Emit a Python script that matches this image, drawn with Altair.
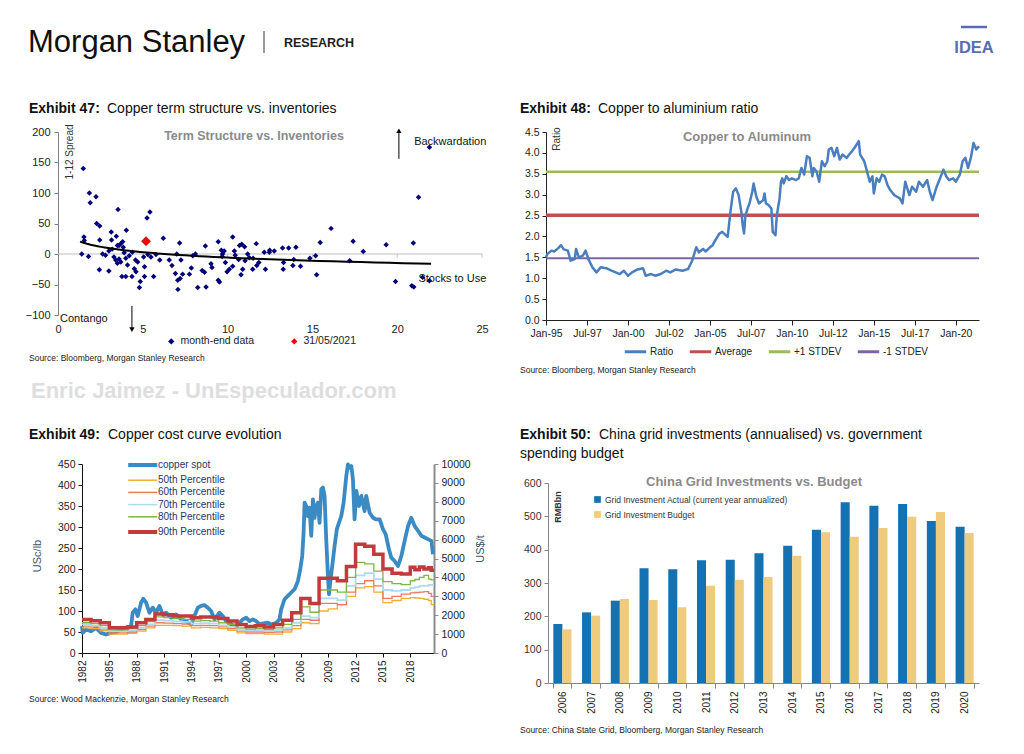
import altair as alt
import pandas as pd

FONT = "Liberation Sans"

# ---------------- Exhibit 47: term structure vs inventories ----------------
stu_x = [1.49, 1.85, 2.24, 1.90, 3.54, 5.42, 5.25, 2.28, 2.46, 4.03,
         3.14, 3.44, 6.21, 1.53, 1.55, 2.46, 3.16, 3.81, 3.70, 3.60,
         3.85, 3.50, 7.17, 8.69, 9.45, 10.30, 10.83, 11.00, 11.69, 12.16,
         12.48, 9.63, 9.80, 9.70, 1.40, 1.80, 2.63, 3.00, 2.44, 3.00,
         3.30, 3.40, 3.60, 3.70, 3.50, 4.00, 4.10, 4.38, 3.77, 4.00,
         4.36, 4.60, 4.70, 4.57, 4.50, 4.85, 4.80, 5.05, 5.10, 5.10,
         5.48, 5.64, 5.78, 6.56, 6.72, 6.92, 7.06, 7.07, 7.00, 7.25,
         7.20, 7.35, 7.75, 7.86, 7.95, 8.10, 8.24, 8.50, 8.64, 8.73,
         9.02, 9.08, 9.45, 9.52, 9.68, 9.87, 9.97, 10.10, 10.30, 10.40,
         10.65, 10.79, 10.89, 11.03, 11.18, 11.28, 11.48, 11.72, 11.84, 12.23,
         12.46, 12.75, 13.24, 13.28, 13.30, 13.60, 13.85, 13.90, 14.03, 14.30,
         14.85, 15.19, 15.25, 15.46, 16.10, 17.20, 17.40, 18.00, 19.35, 19.90,
         20.95, 20.86, 20.98, 21.26, 21.50, 21.90, 21.90, 10.70, 11.50, 2.80,
         3.20, 3.90, 4.20, 10.45, 5.30, 6.00]
spread_y = [140, 100, 94, 84, 73, 69, 59, 50, 46, 39,
            36, 29, 26, 28, 22, 23, 23, 20, 17, 14,
            11, 14, 18, 13, 20, 28, 16, 12, 17, 3,
            6, 6, 5, 0, 0, -4, 0, 5, -26, -28,
            -5, -10, -8, -13, -15, -7, -18, 3, -37, -37,
            -37, -29, -13, -10, -24, -45, -55, -5, -21, -37,
            -5, -37, -1, -10, -19, -32, -43, -58, 0, -10,
            -40, -33, -33, -23, -3, 0, -55, -27, -30, -54,
            -16, -22, -43, -46, -4, -14, -29, -25, -20, 5,
            -9, -34, -25, -11, 0, -6, -25, -19, -14, -25,
            3, 5, 10, -25, -14, 10, -19, -9, 11, -20,
            -7, -3, -34, 19, 42, -11, 21, 4, 15, -45,
            18, -52, -54, 93, -38, 175, -44, 14, -7, -2,
            8, 2, -3, -2, -1, -10]
latest_x = [5.19]
latest_y = [21]
series47 = ["month-end data", "31/05/2021"]
xticks47 = [0, 5, 10, 15, 20, 25]
yticks47 = [-100, -50, 0, 50, 100, 150, 200]
ann47_text = ["Backwardation", "Stocks to Use", "Contango"]
ann47_x = [21.0, 21.25, 0.12]
ann47_y = [183.5, -40.5, -106.6]
arrow47_x = [20.1, 4.36]
arrow47_from = [156, -85]
arrow47_to = [202, -124]
arrow47_dir = ["up", "down"]

# ---------------- Exhibit 48: copper / aluminium ratio ----------------
ratio_month = [0, 1, 4, 6, 9, 11, 13, 16, 18, 21,
               22, 24, 27, 29, 31, 34, 37, 40, 44, 48,
               51, 54, 57, 60, 63, 67, 71, 73, 77, 80,
               84, 88, 91, 95, 100, 104, 107, 110, 112, 115,
               117, 120, 122, 124, 127, 129, 133, 135, 137, 139,
               141, 143, 144, 145, 146, 148, 149, 151, 152, 154,
               156, 159, 160, 161, 163, 165, 166, 168, 169, 171,
               172, 173, 174, 176, 178, 180, 183, 185, 187, 189,
               191, 193, 195, 196, 198, 200, 202, 204, 206, 207,
               209, 211, 213, 215, 217, 220, 222, 224, 226, 229,
               230, 233, 235, 237, 239, 240, 242, 244, 246, 248,
               250, 252, 255, 257, 259, 261, 263, 266, 268, 271,
               273, 276, 279, 281, 283, 286, 288, 291, 293, 295,
               298, 300, 303, 305, 307, 309, 311, 313, 315, 317]
ratio_val = [1.50, 1.58, 1.66, 1.64, 1.72, 1.79, 1.69, 1.66, 1.42, 1.46,
             1.70, 1.50, 1.54, 1.66, 1.46, 1.26, 1.14, 1.26, 1.24, 1.18,
             1.14, 1.10, 1.18, 1.06, 1.14, 1.21, 1.24, 1.06, 1.10, 1.06,
             1.10, 1.18, 1.14, 1.21, 1.18, 1.22, 1.42, 1.74, 1.62, 1.70,
             1.64, 1.74, 1.79, 1.91, 2.07, 2.11, 1.99, 2.59, 3.07, 3.15,
             2.99, 2.59, 2.27, 2.07, 2.51, 2.71, 2.79, 3.07, 3.27, 2.95,
             2.79, 2.87, 3.03, 2.79, 2.75, 2.67, 2.11, 2.03, 2.51, 2.91,
             3.31, 3.39, 3.27, 3.44, 3.35, 3.39, 3.35, 3.39, 3.64, 3.48,
             3.92, 3.88, 3.44, 3.64, 3.56, 3.31, 3.80, 3.68, 3.80, 4.08,
             4.12, 3.92, 4.12, 3.84, 3.96, 3.88, 3.96, 4.04, 4.13, 4.28,
             3.96, 3.80, 3.56, 3.31, 3.44, 3.03, 3.39, 3.31, 3.48, 3.44,
             3.23, 3.11, 2.99, 2.95, 2.91, 2.79, 3.31, 2.99, 3.19, 3.07,
             3.31, 3.19, 3.35, 3.07, 2.87, 3.19, 3.35, 3.60, 3.44, 3.35,
             3.39, 3.31, 3.48, 3.80, 3.88, 3.64, 3.88, 4.24, 4.08, 4.16]
ref_names = ["Average", "+1 STDEV", "-1 STDEV"]
ref_vals = [2.51, 3.55, 1.48]
ref_widths = [3.5, 2.5, 2.0]
ratio_width = 2.5
ratio_span = [0, 317]
series48 = ["Ratio", "Average", "+1 STDEV", "-1 STDEV"]
colors48 = ["#4a7ebf", "#c0504d", "#9bbb59", "#8064a2"]
xticks48 = [0, 30, 60, 90, 120, 150, 180, 210, 240, 270, 300]
xlabels48 = ["Jan-95", "Jul-97", "Jan-00", "Jul-02", "Jan-05", "Jul-07",
             "Jan-10", "Jul-12", "Jan-15", "Jul-17", "Jan-20"]
yticks48 = [0, 0.5, 1, 1.5, 2, 2.5, 3, 3.5, 4, 4.5]

# ---------------- Exhibit 49: cost curve ----------------
spot_year = [1982.0, 1982.07, 1982.44, 1982.99, 1983.54, 1984.09, 1984.63, 1985.18, 1985.73, 1986.28,
             1986.83, 1987.38, 1987.56, 1987.85, 1988.11, 1988.48, 1988.73, 1989.03, 1989.39, 1989.76,
             1990.12, 1990.49, 1990.85, 1991.22, 1991.77, 1992.32, 1992.87, 1993.42, 1993.96, 1994.33,
             1994.70, 1995.06, 1995.43, 1995.79, 1996.16, 1996.53, 1997.07, 1997.44, 1997.81, 1998.36,
             1998.90, 1999.27, 1999.64, 2000.00, 2000.37, 2000.73, 2001.10, 2001.47, 2002.01, 2002.38,
             2002.75, 2003.30, 2003.66, 2003.84, 2004.21, 2004.58, 2004.94, 2005.31, 2005.67, 2005.93,
             2006.15, 2006.30, 2006.41, 2006.59, 2006.77, 2006.95, 2007.14, 2007.32, 2007.50, 2007.69,
             2007.87, 2008.05, 2008.24, 2008.42, 2008.60, 2008.78, 2008.97, 2009.08, 2009.22, 2009.44,
             2009.70, 2009.95, 2010.17, 2010.43, 2010.69, 2010.98, 2011.16, 2011.34, 2011.53, 2011.71,
             2011.89, 2012.08, 2012.37, 2012.63, 2012.99, 2013.17, 2013.54, 2013.91, 2014.27, 2014.64,
             2015.00, 2015.30, 2015.66, 2015.92, 2016.28, 2016.65, 2017.02, 2017.38, 2017.75, 2018.11,
             2018.48, 2018.85, 2019.21, 2019.58, 2019.94, 2020.31, 2020.49]
spot_val = [64, 48, 56, 52, 60, 48, 44, 48, 50, 56,
            60, 64, 96, 104, 88, 120, 129, 120, 96, 108,
            96, 112, 92, 96, 84, 92, 80, 76, 68, 88,
            108, 112, 114, 108, 100, 80, 96, 88, 76, 68,
            64, 72, 80, 84, 76, 80, 76, 68, 71, 72,
            68, 72, 80, 104, 128, 136, 144, 152, 171, 199,
            231, 287, 358, 350, 326, 346, 279, 366, 322, 350,
            358, 310, 390, 394, 374, 271, 183, 140, 168, 207,
            255, 295, 310, 326, 358, 421, 449, 441, 445, 414,
            318, 386, 350, 374, 338, 374, 334, 322, 318, 318,
            295, 283, 247, 227, 219, 207, 231, 267, 302, 322,
            302, 291, 279, 275, 271, 267, 235]
pct_year = list(range(1982, 2018)) + [2018, 2018.5, 2019, 2019.5, 2020, 2020.3, 2020.6]
p50 = [60, 58, 53, 45, 45, 47, 52, 60, 66, 66, 65, 64, 60, 61, 60, 58, 54, 48, 46, 46,
       45, 45, 50, 58, 72, 70, 100, 105, 115, 135, 155, 158, 145, 120, 125, 130,
       132, 131, 130, 128, 125, 115, 115]
p60 = [64, 62, 57, 48, 48, 50, 56, 64, 72, 71, 70, 69, 65, 66, 65, 62, 58, 52, 50, 50,
       49, 50, 55, 65, 80, 78, 118, 118, 115, 145, 165, 172, 160, 130, 135, 140,
       143, 144, 145, 146, 142, 135, 135]
p70 = [68, 65, 60, 52, 52, 54, 60, 68, 78, 77, 75, 74, 70, 71, 70, 66, 62, 56, 54, 54,
       52, 55, 60, 72, 88, 84, 130, 130, 126, 160, 185, 190, 176, 150, 148, 150,
       155, 157, 160, 160, 162, 162, 162]
p80 = [72, 70, 65, 55, 55, 58, 65, 75, 86, 84, 82, 80, 76, 77, 76, 72, 68, 60, 57, 58,
       56, 60, 68, 80, 110, 97, 150, 150, 145, 180, 216, 212, 195, 170, 165, 163,
       172, 175, 180, 185, 176, 174, 174]
p90 = [80, 77, 72, 60, 60, 62, 72, 80, 93, 91, 88, 88, 84, 86, 86, 82, 76, 68, 63, 65,
       62, 68, 78, 96, 130, 118, 178, 178, 172, 206, 259, 254, 235, 200, 190, 188,
       204, 198, 205, 200, 203, 197, 197]
series49 = ["copper spot", "50th Percentile", "60th Percentile", "70th Percentile",
            "80th Percentile", "90th Percentile"]
colors49 = ["#3a8ac4", "#f0ae36", "#f07a5c", "#acdcee", "#7cb646", "#c23a3a"]
widths49 = [3.8, 1.3, 1.3, 1.8, 1.3, 3.5]
xticks49 = list(range(1982, 2019, 3))
yticks49 = list(range(0, 451, 50))
yticks49r = list(range(0, 10001, 1000))

# ---------------- Exhibit 50: China grid ----------------
grid_years = [2006, 2007, 2008, 2009, 2010, 2011, 2012, 2013, 2014, 2015, 2016, 2017, 2018, 2019, 2020]
grid_actual = [177, 212, 247, 344, 341, 368, 370, 389, 412, 460, 542, 532, 537, 486, 469]
grid_budget = [161, 202, 252, 249, 227, 292, 310, 318, 382, 452, 439, 465, 499, 513, 450]
series50 = ["Grid Investment Actual (current year annualized)", "Grid Investment Budget"]
colors50 = ["#1472b2", "#eecb7d"]
yticks50 = [0, 100, 200, 300, 400, 500, 600]


def txt(text, x, y, size=10, color="#000000", weight="normal", font=FONT,
        align="left", baseline="alphabetic", angle=0):
    kw = dict(align=align, baseline=baseline, fontSize=size, color=color,
              fontWeight=weight, font=font)
    if angle:
        kw["angle"] = angle
    return alt.Chart(pd.DataFrame({"t": [text]})).mark_text(**kw).encode(
        text="t:N", x=alt.value(x), y=alt.value(y))


def seg(x1, x2, y1, y2, color, width):
    return alt.Chart(pd.DataFrame({"a": [0]})).mark_rule(color=color, strokeWidth=width).encode(
        x=alt.value(x1), x2=alt.value(x2), y=alt.value(y1), y2=alt.value(y2))


GRAYT = "#8a8a8a"
LAB = "#222222"

# ======================= Exhibit 47 =======================
x47 = alt.X("sx:Q", scale=alt.Scale(domain=[0, 25], nice=False, zero=False),
            axis=alt.Axis(values=xticks47, domain=False, ticks=False, grid=False, labelPadding=8,
                          labelFontSize=11, labelColor=LAB, title=None, labelFlush=False))
y47 = alt.Y("sy:Q", scale=alt.Scale(domain=[-100, 200], nice=False, zero=False),
            axis=alt.Axis(values=yticks47, grid=False, domainColor="#808080", tickColor="#808080",
                          tickSize=4, labelPadding=4, labelFontSize=11, labelColor=LAB, title=None))
c47 = alt.Color("series:N", scale=alt.Scale(domain=series47, range=["#00007a", "#ff0000"]),
                legend=alt.Legend(orient="none", legendX=108, legendY=204, direction="horizontal",
                                  title=None, symbolType="diamond", symbolSize=40, labelFontSize=10.5,
                                  labelColor=LAB, columnPadding=34, labelOffset=4, padding=0))
df47 = pd.DataFrame({"sx": stu_x, "sy": spread_y, "series": series47[0]})
df47r = pd.DataFrame({"sx": latest_x, "sy": latest_y, "series": series47[1]})

anchor = alt.Chart(pd.DataFrame({"a": [0]})).mark_point(filled=True, size=1, color="white").encode(
    x=alt.value(-49), y=alt.value(-123))
zero = alt.Chart(pd.DataFrame({"sx": [0], "sx2": [25], "sy": [0]})).mark_rule(
    color="#bfbfbf", strokeWidth=1).encode(x=x47, x2="sx2:Q", y=y47)
zticks = alt.Chart(pd.DataFrame({"sx": xticks47[1:], "sy": [0] * 5, "sy2": [-6] * 5})).mark_rule(
    color="#bfbfbf", strokeWidth=1).encode(x=x47, y=y47, y2="sy2:Q")
pts = alt.Chart(df47).mark_point(shape="diamond", filled=True, size=30, opacity=1).encode(
    x=x47, y=y47, color=c47)
trend = alt.Chart(df47).transform_regression("sx", "sy", method="log", extent=[1.3, 22]).mark_line(
    color="black", strokeWidth=2).encode(x=x47, y=y47)
redpt = alt.Chart(df47r).mark_point(shape="diamond", filled=True, size=80, opacity=1,
                                    stroke="#9a0000", strokeWidth=0.7).encode(x=x47, y=y47, color=c47)
arr_df = pd.DataFrame({"sx": arrow47_x, "sy": arrow47_from, "sy2": arrow47_to})
shafts = alt.Chart(arr_df).mark_rule(color="black", strokeWidth=1).encode(x=x47, y=y47, y2="sy2:Q")
heads = alt.Chart(pd.DataFrame({"sx": arrow47_x, "sy": arrow47_to, "dir": arrow47_dir})).mark_point(
    filled=True, size=28, color="black", opacity=1).encode(
    x=x47, y=y47, shape=alt.Shape("dir:N", scale=alt.Scale(domain=["up", "down"],
                                                            range=["triangle-up", "triangle-down"]),
                                  legend=None))
ann = alt.Chart(pd.DataFrame({"sx": ann47_x, "sy": ann47_y, "lab": ann47_text})).mark_text(
    align="left", baseline="middle", fontSize=11, color="#111111").encode(x=x47, y=y47, text="lab:N")

ex47 = alt.layer(
    anchor, zero, zticks, pts, trend, redpt, shafts, heads, ann,
    txt("Morgan Stanley", -30, -80, size=31, color="#111111"),
    seg(206, 206, -101, -79, "#333333", 1),
    txt("RESEARCH", 226, -85, size=12.5, weight="bold", color="#222222"),
    txt("Exhibit 47:", -29, -19, size=14, weight="bold", color="#111111"),
    txt("Copper term structure vs. inventories", 49, -19, size=14, color="#111111"),
    txt("Term Structure vs. Inventories", 196, 4, size=12.5, weight="bold", color=GRAYT,
        align="center", baseline="middle"),
    txt("1-12 Spread", 12, 20, size=10, color="#333333", angle=270, align="center", baseline="middle"),
    txt("Source: Bloomberg, Morgan Stanley Research", -29, 229, size=8.5, color="#222222"),
    txt("Enric Jaimez - UnEspeculador.com", -27, 266, size=22, weight="bold", color="#dedede"),
).properties(width=424, height=183)

# ======================= Exhibit 48 =======================
label_expr48 = "[" + ",".join("'%s'" % s for s in xlabels48) + "][round(datum.value / 30)]"
x48 = alt.X("m:Q", scale=alt.Scale(domain=[0, 317], nice=False, zero=False),
            axis=alt.Axis(values=xticks48, labelExpr=label_expr48, domainColor="#222222",
                          tickColor="#222222", tickSize=5, grid=False, labelFontSize=10.5,
                          labelColor=LAB, labelPadding=3, title=None, labelFlush=False))
y48 = alt.Y("v:Q", scale=alt.Scale(domain=[0, 4.5], nice=False),
            axis=alt.Axis(values=yticks48, format=".1f", domainColor="#222222", tickColor="#222222",
                          tickSize=4, grid=False, labelFontSize=10.5, labelColor=LAB, labelPadding=3,
                          title=None))
c48 = alt.Color("series:N", scale=alt.Scale(domain=series48, range=colors48),
                legend=alt.Legend(orient="none", legendX=77, legendY=207, direction="horizontal",
                                  title=None, symbolType="stroke", symbolSize=460, symbolStrokeWidth=3,
                                  labelFontSize=10, labelColor=LAB, columnPadding=9, labelOffset=2,
                                  padding=0))
ref_df = pd.DataFrame({
    "m": ratio_span * 3,
    "v": [ref_vals[0]] * 2 + [ref_vals[1]] * 2 + [ref_vals[2]] * 2,
    "w": [ref_widths[0]] * 2 + [ref_widths[1]] * 2 + [ref_widths[2]] * 2,
    "series": [ref_names[0]] * 2 + [ref_names[1]] * 2 + [ref_names[2]] * 2,
})
ratio_df = pd.DataFrame({"m": ratio_month, "v": ratio_val, "series": "Ratio"})
refs = alt.Chart(ref_df).mark_line().encode(
    x=x48, y=y48, color=c48, strokeWidth=alt.StrokeWidth("w:Q", scale=None), detail="series:N")
ratio_line = alt.Chart(ratio_df).mark_line(strokeJoin="round", strokeWidth=ratio_width).encode(
    x=x48, y=y48, color=c48)

ex48 = alt.layer(
    refs, ratio_line,
    txt("IDEA", 428, -79, size=16.5, weight="bold", color="#5a6bb5", align="center"),
    seg(415, 441, -105, -105, "#5a6bb5", 2.5),
    txt("Exhibit 48:", -26, -19, size=14, weight="bold", color="#111111"),
    txt("Copper to aluminium ratio", 52, -19, size=14, color="#111111"),
    txt("Copper to Aluminum", 201, 5, size=13, weight="bold", color=GRAYT, align="center",
        baseline="middle"),
    txt("Ratio", 11, 7, size=10, color="#333333", angle=270, align="center", baseline="middle"),
    txt("Source: Bloomberg, Morgan Stanley Research", -26, 241, size=8.5, color="#222222"),
).properties(width=433, height=188)

# ======================= Exhibit 49 =======================
x49 = alt.X("yr:Q", scale=alt.Scale(domain=[1982, 2020.6], range=[24, 376], nice=False, zero=False),
            axis=alt.Axis(values=xticks49, format="d", labelAngle=270, labelAlign="right",
                          labelBaseline="middle", domainColor="#111111",
                          tickColor="#111111", tickSize=4, labelFontSize=10,
                          labelColor=LAB, labelPadding=3, title=None, grid=False, labelFlush=False))
yscale49 = alt.Scale(domain=[0, 450], nice=False)
y49 = alt.Y("val:Q", scale=yscale49,
            axis=alt.Axis(orient="left", offset=-24, values=yticks49, domainColor="#111111",
                          tickColor="#111111", tickSize=4, labelFontSize=10.5,
                          labelColor=LAB, labelPadding=3, title=None, grid=False))
y49b = alt.Y("val:Q", scale=yscale49, axis=None)
y49r = alt.Y("usd:Q", scale=alt.Scale(domain=[0, 10000], nice=False),
             axis=alt.Axis(orient="right", values=yticks49r, format="d", domainColor="#8c8c8c",
                           domainWidth=2, tickColor="#8c8c8c", tickSize=4, labelFontSize=10.5,
                           labelColor=LAB, labelPadding=3, title=None, grid=False))
thick_expr = "(datum.value == '%s' || datum.value == '%s') ? 4 : 1.5" % (series49[0], series49[5])
leg49 = alt.Legend(orient="none", legendX=71, legendY=-4, title=None, symbolType="M-1,0H4",
                   symbolSize=135, labelFontSize=10, labelColor="#1f3864",
                   labelOffset=19, rowPadding=2.2, padding=0,
                   symbolStrokeWidth=alt.ExprRef(thick_expr))
c49 = alt.Color("series:N", scale=alt.Scale(domain=series49, range=colors49), legend=leg49)
w49 = alt.StrokeWidth("w:Q", scale=None)
spot_df = pd.DataFrame({"yr": spot_year, "val": spot_val, "series": series49[0], "w": widths49[0]})
pct_df = pd.concat([
    pd.DataFrame({"yr": pct_year, "val": vals, "series": name, "w": wid})
    for name, vals, wid in zip(series49[1:], [p50, p60, p70, p80, p90], widths49[1:])
], ignore_index=True)
spot_line = alt.Chart(spot_df).mark_line(strokeJoin="round").encode(
    x=x49, y=y49, color=c49, strokeWidth=w49)
pct_lines = alt.Chart(pct_df).mark_line(interpolate="step-after").encode(
    x=x49, y=y49b, color=c49, strokeWidth=w49, detail="series:N")
right49 = alt.Chart(pd.DataFrame({"yr": [1982, 2020], "usd": [0, 10000]})).mark_point(
    opacity=0).encode(x=x49, y=y49r)
ex49 = alt.layer(
    spot_line, pct_lines, right49,
    txt("Exhibit 49:", -29, -25, size=14, weight="bold", color="#111111"),
    txt("Copper cost curve evolution", 50, -25, size=14, color="#111111"),
    txt("USc/lb", -20, 92, size=11, color="#44546a", angle=270, align="center",
        baseline="middle"),
    txt("US$/t", 423, 85, size=11, color="#44546a", angle=270, align="center",
        baseline="middle"),
    txt("Source: Wood Mackenzie, Morgan Stanley Research", -29, 238, size=8.5, color="#222222"),
).resolve_scale(y="independent").properties(width=376, height=189)

# ======================= Exhibit 50 =======================
g_df = pd.DataFrame({
    "year": [str(y) for y in grid_years] * 2,
    "series": [series50[0]] * len(grid_years) + [series50[1]] * len(grid_years),
    "val": grid_actual + grid_budget,
})
x50 = alt.X("year:N", scale=alt.Scale(range=[2, 433], paddingInner=0.37, paddingOuter=0.185),
            axis=alt.Axis(labelAngle=270, tickBand="extent", domainColor="#868686", tickColor="#868686",
                          tickSize=5, labelFontSize=10, labelColor=LAB, labelPadding=3, title=None,
                          grid=False))
y50 = alt.Y("val:Q", scale=alt.Scale(domain=[0, 600], range=[219, 19], nice=False),
            axis=alt.Axis(values=yticks50, offset=-2, domainColor="#868686", tickColor="#868686",
                          tickSize=4, labelFontSize=10.5, labelColor="#333333", labelPadding=3,
                          title=None, grid=False))
c50 = alt.Color("series:N", scale=alt.Scale(domain=series50, range=colors50),
                legend=alt.Legend(orient="none", legendX=47, legendY=31, title=None, symbolType="square",
                                  symbolSize=45, labelFontSize=8.5, labelColor="#333333", rowPadding=6,
                                  labelLimit=400, labelOffset=3, padding=0))
bars = alt.Chart(g_df).mark_bar().encode(
    x=x50, xOffset=alt.XOffset("series:N", scale=alt.Scale(domain=series50)), y=y50, color=c50)
ex50 = alt.layer(
    bars,
    txt("Exhibit 50:", -26, -25, size=14, weight="bold", color="#111111"),
    txt("China grid investments (annualised) vs. government", 53, -25, size=14, color="#111111"),
    txt("spending budget", -26, -6, size=14, color="#111111"),
    txt("China Grid Investments vs. Budget", 208, 18, size=13, weight="bold", color=GRAYT,
        align="center", baseline="middle"),
    txt("RMBbn", 12, 43, size=9, weight="bold", color="#333333", angle=270, align="center",
        baseline="middle"),
    txt("Source: China State Grid, Bloomberg, Morgan Stanley Research", -26, 269, size=8.5,
        color="#222222"),
).properties(width=433, height=219)

chart = alt.concat(
    ex47, ex48, ex49, ex50, columns=2, spacing={"row": 144, "column": 64}, bounds="flush"
).resolve_scale(
    color="independent", shape="independent"
).resolve_legend(
    color="independent", shape="independent"
).properties(padding=0, background="white").configure_view(stroke=None).configure_axis(
    labelFont=FONT).configure_legend(labelFont=FONT)

chart.save("out.html", embed_options={"renderer": "svg", "actions": False})
